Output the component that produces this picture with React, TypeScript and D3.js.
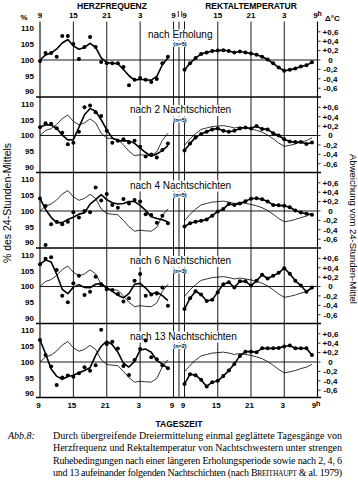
import React from "react";
import * as d3 from "d3";

// ---------- data ----------
const hours = [9, 10, 11, 12, 13, 14, 15, 16, 17, 18, 19, 20, 21, 22, 23, 24, 25, 26, 27, 28, 29, 30, 31, 32];

const hfTickValues = [110, 105, 100, 95, 90];
const tempTickValues = [0.6, 0.4, 0.2, 0, -0.2, -0.4, -0.6];
const tempTickLabels = ["+0,6", "+0,4", "+0,2", "0", "-0,2", "-0,4", "-0,6"];
const hourTicks = [9, 15, 21, 27, 33];
const hourTickLabels = ["9", "15", "21", "3", "9"];

const panelTitles = [
  "nach Erholung",
  "nach 2 Nachtschichten",
  "nach 4 Nachtschichten",
  "nach 6 Nachtschichten",
  "nach 13 Nachtschichten",
];
const panelN = ["(n=5)", "(n=5)", "(n=5)", "(n=3)", "(n=2)"];

// Herzfrequenz (% des 24-Stunden-Mittels): single values (dots) and smoothed curve
const hfDotsErholung = [99.7, 102.2, 102.2, 101, 107.6, 107.6, 105.1, 100.3, 104.1, 107.3, 104.1, 99.4, 99, 99, 99, 97.8, 92, 93.7, 94.3, 93.7, 93, 94, 99, 101];
const hfLineErholung = [100, 101.6, 102.2, 103.5, 105.4, 106.5, 104.5, 103.4, 104, 105.3, 104, 100.7, 99.2, 99, 98.8, 97, 95, 93.6, 93.9, 93.7, 93.6, 94.8, 98.5, 100.7];

const hfDots2N = [102.6, 103.9, 103.7, 102.3, 100.9, 97.2, 97.7, 101.2, 109, 109.5, 107.4, 106.2, 101.5, 97.7, 98.3, 98.8, 97.8, 98.3, 96.4, 93.3, 94, 93, 95.4, 97.5];
const hfLine2N = [102.6, 103.4, 103.3, 102.3, 100.1, 98.6, 98.7, 102.6, 106.6, 108.6, 107.7, 105, 101.8, 99.2, 98.3, 98.3, 98.3, 97.5, 96, 94.6, 93.4, 94.1, 95.3, 96.8];

const hfDots4N = [104, 101.6, 95.8, 96.6, 95.8, 96.6, 99.6, 97.9, 100, 99.6, 107.5, 103.3, 105.4, 101.9, 101, 103.8, 102.4, 103.5, 103, 99, 98.7, 96.3, 98.5, 96.1];
const hfLine4N = [104, 100.5, 98, 96.3, 96.3, 97.3, 98, 99, 99.4, 102.2, 103.6, 105.2, 103.6, 102.6, 102.2, 102.4, 103, 103, 101.8, 100.2, 98.2, 97.6, 97.2, 96.5];
const hfOutlier4N = [{ hour: 10, value: 89.2 }];

const hfDots6N = [107.1, 108.8, 109.3, 105.2, 97.1, 95, 101, 103.4, 97.3, 98.3, 103.1, 100.7, 99.1, 98.9, 97.6, 95.2, 96.3, 101.8, 104, 97.1, 97.5, 97.8, 99.7, 93.9];
const hfLine6N = [107.1, 108.4, 107.8, 103.9, 99.1, 97.7, 99.8, 100.6, 99.7, 99.6, 100.7, 101, 99.6, 98.5, 97.2, 96.4, 97.8, 100.7, 101, 99.5, 97.5, 98.3, 97.1, 95.5];

const hfDots13N = [107, 102.2, 98.6, 92.7, 95.1, 95.7, 95.3, 96.4, 98.3, 97.2, 99, 110.2, 105.7, 106.4, 104.3, 98.7, 95.9, 100.6, 104.1, 106.8, 101.5, 100.9, 99, 98];
const hfLine13N = [107, 102.6, 97.8, 95.5, 94.5, 95.4, 95.8, 96.6, 97.3, 98.2, 102.1, 105, 106.6, 105.5, 103.1, 99.6, 98.4, 100.2, 103.8, 104.1, 103.1, 100.5, 99.3, 98];

// Rektaltemperatur (Abweichung vom 24-Stunden-Mittel, °C)
const tempErholung = [-0.21, -0.07, 0.04, 0.13, 0.16, 0.19, 0.2, 0.21, 0.19, 0.16, 0.18, 0.16, 0.14, 0.11, 0.07, 0.01, -0.07, -0.16, -0.23, -0.21, -0.18, -0.14, -0.11, -0.05];
const temp2N = [-0.32, -0.17, -0.04, 0.03, 0.08, 0.13, 0.15, 0.1, 0.08, 0.1, 0.15, 0.17, 0.15, 0.2, 0.14, 0.13, 0.05, 0, -0.08, -0.13, -0.14, -0.14, -0.18, -0.15];
const temp4N = [-0.33, -0.26, -0.23, -0.21, -0.18, -0.1, -0.01, 0.04, 0.15, 0.13, 0.16, 0.21, 0.26, 0.27, 0.25, 0.2, 0.13, 0.12, 0.11, 0.08, 0.01, -0.03, -0.06, -0.08];
const temp6N = [-0.48, -0.25, -0.1, -0.17, -0.31, -0.28, -0.12, 0.05, 0.09, -0.02, 0.11, 0.11, 0.02, 0.12, 0.25, 0.17, 0.23, 0.29, 0.39, 0.27, 0.12, 0.02, -0.11, -0.02];
const temp13N = [-0.47, -0.26, -0.28, -0.38, -0.52, -0.43, -0.4, -0.3, -0.18, -0.04, 0.13, 0.22, 0.22, 0.21, 0.29, 0.29, 0.29, 0.3, 0.33, 0.35, 0.29, 0.29, 0.29, 0.15];

const captionLines = [
  "Durch übergreifende Dreiermittelung einmal geglättete Tagesgänge von",
  "Herzfrequenz und Rektaltemperatur von Nachtschwestern unter strengen",
  "Ruhebedingungen nach einer längeren Erholungsperiode sowie nach 2, 4, 6",
];
const captionLast = "und 13 aufeinander folgenden Nachtschichten (nach ";

const panels = [
  { title: panelTitles[0], n: panelN[0], hfDots: hfDotsErholung, hfLine: hfLineErholung, temp: tempErholung, ref: false, outliers: [] as { hour: number; value: number }[] },
  { title: panelTitles[1], n: panelN[1], hfDots: hfDots2N, hfLine: hfLine2N, temp: temp2N, ref: true, outliers: [] },
  { title: panelTitles[2], n: panelN[2], hfDots: hfDots4N, hfLine: hfLine4N, temp: temp4N, ref: true, outliers: hfOutlier4N },
  { title: panelTitles[3], n: panelN[3], hfDots: hfDots6N, hfLine: hfLine6N, temp: temp6N, ref: true, outliers: [] },
  { title: panelTitles[4], n: panelN[4], hfDots: hfDots13N, hfLine: hfLine13N, temp: temp13N, ref: true, outliers: [] },
];

// ---------- layout ----------
const W = 358;
const H = 480;
const PANEL_TOP0 = 21.5;
const PANEL_H = 75.5;
const BOTTOM = 397.5;
const MID_X = 179;

const SANS = "'Liberation Sans', Arial, Helvetica, sans-serif";
const NARROW = "'Liberation Sans Narrow', 'Liberation Sans', Arial, sans-serif";
const SERIF = "'Liberation Serif', 'Times New Roman', serif";

export default function App() {
  const xH = d3.scaleLinear().domain([9, 33]).range([40, 173.5]);
  const xT = d3.scaleLinear().domain([9, 33]).range([184.5, 317.5]);

  const vLines = [
    ...hourTicks.map((h) => xH(h)),
    MID_X,
    ...hourTicks.map((h) => xT(h)),
  ];

  return (
    <svg
      width={W}
      height={H}
      viewBox={`0 0 ${W} ${H}`}
      style={{ position: "absolute", left: 0, top: 0, background: "#fff" }}
    >
      <rect x={0} y={0} width={W} height={H} fill="#fff" />

      {/* titles */}
      <text x={112} y={8.5} textAnchor="middle" fontFamily={SANS} fontWeight="bold" fontSize={8.5}>
        HERZFREQUENZ
      </text>
      <text x={251} y={8.5} textAnchor="middle" fontFamily={SANS} fontWeight="bold" fontSize={8.5}>
        REKTALTEMPERATUR
      </text>

      {/* top hour labels */}
      {hourTicks.map((h, j) => (
        <text key={"th" + j} x={xH(h)} y={17.5} textAnchor="middle" fontFamily={NARROW} fontWeight="bold" fontSize={8}>
          {hourTickLabels[j]}
        </text>
      ))}
      {hourTicks.map((h, j) => (
        <text key={"tt" + j} x={xT(h)} y={17.5} textAnchor="middle" fontFamily={NARROW} fontWeight="bold" fontSize={8}>
          {hourTickLabels[j]}
          {j === hourTicks.length - 1 ? <tspan dy={-2} fontSize={7}>h</tspan> : null}
        </text>
      ))}
      {/* bottom hour labels */}
      {hourTicks.map((h, j) => (
        <text key={"bh" + j} x={xH(h) - 1.5} y={407.5} textAnchor="middle" fontFamily={NARROW} fontWeight="bold" fontSize={8}>
          {hourTickLabels[j]}
        </text>
      ))}
      {hourTicks.map((h, j) => (
        <text key={"bt" + j} x={xT(h) - 1.5} y={407.5} textAnchor="middle" fontFamily={NARROW} fontWeight="bold" fontSize={8}>
          {hourTickLabels[j]}
          {j === hourTicks.length - 1 ? <tspan dy={-2} fontSize={7}>h</tspan> : null}
        </text>
      ))}
      <line x1={178.3} x2={178.3} y1={11} y2={17} stroke="#000" strokeWidth={0.8} />
      <line x1={181.7} x2={181.7} y1={11} y2={17} stroke="#000" strokeWidth={0.8} />

      <text x={24} y={20} textAnchor="middle" fontFamily={NARROW} fontWeight="bold" fontSize={8}>%</text>
      <text x={325} y={21} fontFamily={NARROW} fontWeight="bold" fontSize={8}>Δ°C</text>

      {/* vertical grid lines */}
      {vLines.map((x, k) => (
        <line key={"v" + k} x1={x} x2={x} y1={PANEL_TOP0} y2={BOTTOM} stroke="#000" strokeWidth={k === 0 || k === vLines.length - 1 ? 1.1 : 0.9} />
      ))}

      {panels.map((p, i) => {
        const top = PANEL_TOP0 + PANEL_H * i;
        const zeroY = top + 38.5;
        const yH = d3.scaleLinear().domain([90, 110]).range([top + 70, top + 7]);
        const yT = d3.scaleLinear().domain([-0.6, 0.6]).range([zeroY + 28.2, zeroY - 28.2]);
        const lineH = d3.line<number>().x((_, k) => xH(hours[k])).y((d) => yH(d));
        const lineT = d3.line<number>().x((_, k) => xT(hours[k])).y((d) => yT(d));
        const titleW = p.title.length * 4.85;
        const titleX = i === 0 ? 148 : 130;
        return (
          <g key={"p" + i}>
            {/* separator */}
            {i > 0 ? (
              <line x1={36} x2={321} y1={top} y2={top} stroke="#000" strokeWidth={1.6} />
            ) : null}
            {/* zero/100 line */}
            <line x1={xH(9)} x2={xT(33)} y1={yH(100)} y2={yH(100)} stroke="#000" strokeWidth={0.9} />

            {/* left ticks labels */}
            {hfTickValues.map((v) => (
              <text key={"hl" + v} x={34} y={yH(v)} dy="0.35em" textAnchor="end" fontFamily={NARROW} fontWeight="bold" fontSize={8}>
                {v}
              </text>
            ))}
            {/* right ticks */}
            {tempTickValues.map((v, k) => (
              <g key={"tr" + k}>
                <line x1={xT(33)} x2={xT(33) + 3} y1={yT(v)} y2={yT(v)} stroke="#000" strokeWidth={0.8} />
                <text x={330.5} y={yT(v)} dy="0.35em" textAnchor="middle" fontFamily={NARROW} fontWeight="bold" fontSize={8}>
                  {tempTickLabels[k]}
                </text>
              </g>
            ))}

            {/* panel title */}
            <rect x={titleX - 1.5} y={top + 8} width={titleW + 3} height={11} fill="#fff" />
            <text x={titleX} y={top + 16} fontFamily={SANS} fontSize={10}>
              {p.title}
            </text>
            <rect x={172.5} y={top + 19.5} width={15} height={6} fill="#fff" />
            <text x={180} y={top + 24.5} textAnchor="middle" fontFamily={SANS} fontWeight="bold" fontSize={5.5}>
              {p.n}
            </text>

            {/* reference curves (after recovery) */}
            {p.ref ? (
              <>
                <path d={lineH(hfLineErholung) || ""} fill="none" stroke="#000" strokeWidth={0.8} />
                <path d={lineT(tempErholung) || ""} fill="none" stroke="#000" strokeWidth={0.8} />
              </>
            ) : null}

            {/* HF */}
            <path d={lineH(p.hfLine) || ""} fill="none" stroke="#000" strokeWidth={1.6} strokeLinejoin="round" />
            {p.hfDots.map((v, k) => (
              <circle key={"hd" + k} cx={xH(hours[k])} cy={yH(v)} r={2} fill="#000" />
            ))}
            {p.outliers.map((o, k) => (
              <circle key={"ho" + k} cx={xH(o.hour)} cy={yH(o.value)} r={2} fill="#000" />
            ))}

            {/* temperature */}
            <path d={lineT(p.temp) || ""} fill="none" stroke="#000" strokeWidth={1.6} strokeLinejoin="round" />
            {p.temp.map((v, k) => (
              <circle key={"td" + k} cx={xT(hours[k])} cy={yT(v)} r={2} fill="#000" />
            ))}
          </g>
        );
      })}

      {/* bottom border */}
      <line x1={36} x2={321} y1={BOTTOM} y2={BOTTOM} stroke="#000" strokeWidth={1.6} />

      {/* axis titles */}
      <text transform="translate(10.5,203) rotate(-90)" textAnchor="middle" fontFamily={SANS} fontSize={10.5}>
        % des 24-Stunden-Mittels
      </text>
      <text transform="translate(349.5,229) rotate(90)" textAnchor="middle" fontFamily={SANS} fontSize={9.5}>
        Abweichung vom 24-Stunden-Mittel
      </text>

      <text x={179} y={426.5} textAnchor="middle" fontFamily={SANS} fontWeight="bold" fontSize={8.5}>
        TAGESZEIT
      </text>

      {/* caption */}
      <text x={8} y={438.5} fontFamily={SERIF} fontStyle="italic" fontSize={10}>
        Abb.8:
      </text>
      {captionLines.map((t, k) => (
        <text key={"c" + k} x={53} y={438.5 + k * 12.5} fontFamily={SERIF} fontSize={10} textLength={289} lengthAdjust="spacing">
          {t}
        </text>
      ))}
      <text x={53} y={476} fontFamily={SERIF} fontSize={10} textLength={289} lengthAdjust="spacing">
        {captionLast}
        <tspan fontSize={10}>B</tspan>
        <tspan fontSize={7.5}>REITHAUPT</tspan>
        {" & al. 1979)"}
      </text>
    </svg>
  );
}
